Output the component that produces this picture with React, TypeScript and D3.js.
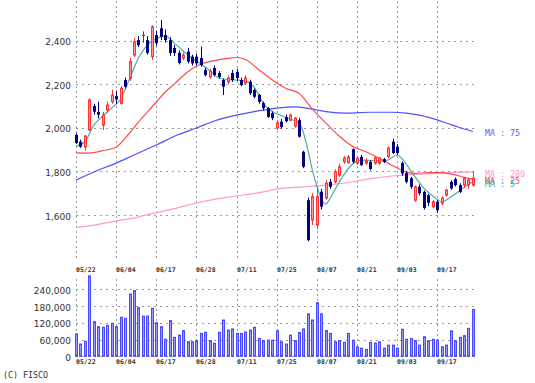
import React from "react";
import * as d3 from "d3";

// ---- data ----
const dateLabels = ["05/22", "06/04", "06/17", "06/28", "07/11", "07/25", "08/07", "08/21", "09/03", "09/17"];
const dateLabelIdx = [0, 9, 18, 27, 36, 45, 54, 63, 72, 81];

const opens = [1967, 1936, 1913, 1990, 2100, 2072, 2012, 2081, 2119, 2145, 2112, 2219, 2227, 2333, 2402, 2425, 2402, 2326, 2425, 2456,
  2425, 2402, 2366, 2343, 2320, 2349, 2326, 2326, 2320, 2265, 2233, 2274, 2251, 2219, 2210, 2251, 2256, 2219, 2205, 2211,
  2173, 2150, 2113, 2090, 2067, 1999, 2028, 2049, 2035, 2008, 2035, 1890, 1668, 1577, 1554, 1707, 1678, 1752, 1752, 1783,
  1844, 1840, 1902, 1838, 1867, 1838, 1844, 1838, 1838, 1856, 1867, 1936, 1913, 1838, 1792, 1769, 1668, 1729, 1706, 1691,
  1638, 1661, 1654, 1691, 1752, 1765, 1737, 1737, 1737, 1737];
const highs = [1975, 1945, 1967, 2135, 2110, 2119, 2073, 2120, 2175, 2170, 2190, 2230, 2320, 2410, 2420, 2442, 2420, 2470, 2445, 2494,
  2450, 2415, 2380, 2355, 2345, 2366, 2335, 2340, 2372, 2275, 2270, 2285, 2260, 2225, 2240, 2265, 2270, 2230, 2240, 2220,
  2180, 2155, 2120, 2095, 2075, 2035, 2040, 2060, 2065, 2050, 2045, 1895, 1680, 1700, 1729, 1720, 1760, 1765, 1810, 1835,
  1870, 1875, 1905, 1870, 1875, 1860, 1850, 1870, 1865, 1862, 1915, 1950, 1925, 1845, 1800, 1775, 1735, 1740, 1712, 1698,
  1668, 1668, 1685, 1720, 1760, 1772, 1745, 1775, 1770, 1800];
const lows = [1925, 1907, 1895, 1985, 2060, 2044, 1990, 2070, 2110, 2110, 2105, 2180, 2215, 2325, 2370, 2390, 2335, 2311, 2375, 2402,
  2390, 2330, 2330, 2290, 2310, 2295, 2285, 2285, 2280, 2235, 2225, 2235, 2225, 2150, 2200, 2210, 2215, 2190, 2195, 2150,
  2135, 2110, 2080, 2045, 2035, 1990, 1995, 2025, 2030, 2000, 1955, 1815, 1480, 1554, 1535, 1625, 1670, 1720, 1745, 1775,
  1835, 1835, 1835, 1830, 1825, 1830, 1805, 1830, 1830, 1838, 1860, 1880, 1875, 1780, 1745, 1720, 1660, 1690, 1625, 1640,
  1630, 1610, 1645, 1685, 1715, 1730, 1700, 1725, 1720, 1730];
const closes = [1930, 1913, 1962, 2127, 2073, 2060, 2058, 2104, 2150, 2130, 2181, 2188, 2303, 2394, 2379, 2425, 2343, 2463, 2387, 2417,
  2402, 2343, 2343, 2297, 2333, 2303, 2295, 2295, 2288, 2242, 2260, 2242, 2233, 2188, 2228, 2219, 2228, 2196, 2228, 2158,
  2142, 2119, 2090, 2050, 2044, 2023, 2003, 2030, 2058, 2044, 1959, 1821, 1485, 1684, 1684, 1638, 1746, 1729, 1798, 1821,
  1861, 1866, 1844, 1861, 1829, 1849, 1811, 1861, 1861, 1843, 1907, 1884, 1884, 1790, 1752, 1729, 1729, 1700, 1632, 1656,
  1661, 1622, 1678, 1714, 1722, 1737, 1706, 1769, 1760, 1769];
const volumes = [80000, 44000, 54000, 288000, 124000, 106000, 104000, 111000, 118000, 106000,
  140000, 136000, 223000, 235000, 174000, 144000, 144000, 172000, 120000, 106000,
  61000, 128000, 68000, 76000, 92000, 52000, 52000, 56000, 82000, 86000,
  56000, 47000, 86000, 130000, 94000, 98000, 82000, 82000, 87000, 94000,
  104000, 64000, 56000, 58000, 58000, 91000, 52000, 44000, 76000, 56000,
  85000, 98000, 152000, 130000, 192000, 152000, 92000, 82000, 52000, 56000,
  50000, 82000, 58000, 34000, 29000, 25000, 50000, 47000, 52000, 29000,
  40000, 40000, 29000, 97000, 61000, 64000, 56000, 40000, 70000, 56000,
  61000, 58000, 34000, 40000, 91000, 56000, 68000, 74000, 100000, 168000];

const ma5Idx = [0, 2, 4, 6, 8, 10, 12, 14, 16, 18, 20, 22, 24, 26, 28, 30, 32, 34, 36, 38, 40, 42, 44, 46, 48, 50, 51, 52, 53, 54, 55, 56, 57, 58, 60, 62, 64, 66, 68, 70, 71, 72, 73, 74, 76, 78, 80, 82, 84, 86, 88, 89];
const ma5Val = [1916, 1936, 2012, 2054, 2090, 2132, 2223, 2320, 2379, 2409, 2421, 2389, 2352, 2320, 2292, 2262, 2228, 2221, 2219, 2214, 2184, 2112, 2074, 2056, 2040, 2022, 1976, 1898, 1806, 1733, 1673, 1650, 1677, 1714, 1783, 1834, 1852, 1850, 1847, 1852, 1866, 1875, 1861, 1834, 1775, 1723, 1687, 1661, 1682, 1710, 1742, 1752];
const ma25Idx = [0, 3, 6, 9, 12, 14, 16, 18, 20, 22, 25, 28, 31, 34, 36, 38, 41, 44, 47, 50, 53, 56, 59, 62, 65, 68, 71, 74, 76, 79, 82, 85, 88, 89];
const ma25Val = [1885, 1884, 1895, 1911, 1976, 2026, 2072, 2118, 2164, 2200, 2256, 2292, 2308, 2318, 2322, 2313, 2266, 2220, 2181, 2158, 2085, 2022, 1962, 1915, 1890, 1860, 1826, 1798, 1791, 1794, 1794, 1784, 1768, 1765];
const ma75Idx = [0, 4, 9, 13, 18, 23, 27, 31, 36, 40, 45, 49, 52, 56, 61, 66, 71, 74, 77, 80, 83, 86, 89];
const ma75Val = [1760, 1797, 1838, 1875, 1921, 1969, 1999, 2031, 2058, 2074, 2090, 2096, 2089, 2074, 2067, 2071, 2071, 2067, 2058, 2042, 2022, 2001, 1983];
const ma200Idx = [0, 5, 9, 13, 17, 22, 27, 31, 36, 42, 46, 51, 56, 61, 66, 72, 78, 84, 89];
const ma200Val = [1543, 1557, 1573, 1586, 1606, 1629, 1655, 1672, 1687, 1706, 1722, 1729, 1737, 1749, 1767, 1781, 1788, 1794, 1798];

const priceTicks = [1600, 1800, 2000, 2200, 2400];
const volumeTicks = [0, 60000, 120000, 180000, 240000];

const maSeries = [
  { name: "MA : 75", idx: ma75Idx, val: ma75Val, color: "#5050ff", label: "#5a5aff" },
  { name: "MA : 200", idx: ma200Idx, val: ma200Val, color: "#ff99cc", label: "#ff99cc" },
  { name: "MA : 25", idx: ma25Idx, val: ma25Val, color: "#ff4a4a", label: "#ff4444" },
  { name: "MA : 5", idx: ma5Idx, val: ma5Val, color: "#4aacac", label: "#44a8a8" },
];

export default function App() {
  const n = closes.length;
  const x = d3.scaleLinear().domain([0, n - 1]).range([76, 76 + (n - 1) * 4.46]);
  const y = d3.scaleLinear().domain([1600, 2400]).range([215, 40.5]);
  const yv = d3.scaleLinear().domain([0, 240000]).range([356.3, 289.3]);
  const plotL = 76, plotR = 476;
  const grey = "#9a9a9a";
  const labelFont = "'DejaVu Sans', Verdana, sans-serif";
  const mono = "'DejaVu Sans Mono', monospace";

  const line = (idx: number[], val: number[]) =>
    d3.line<number>()
      .x((_, k) => x(idx[k]))
      .y((v) => y(v))
      .curve(d3.curveMonotoneX)(val) || "";

  return (
    <svg width={535} height={383} style={{ position: "absolute", left: 0, top: 0, background: "#fff" }}>
      {/* price grid */}
      {priceTicks.map((t) => (
        <g key={"pt" + t}>
          <line x1={plotL} x2={plotR} y1={Math.round(y(t)) + 0.5} y2={Math.round(y(t)) + 0.5} stroke={grey} strokeDasharray="2,4" />
          <text x={71} y={y(t) + 4.5} textAnchor="end" fontFamily={labelFont} fontSize={9} fill="#333">{d3.format(",")(t)}</text>
        </g>
      ))}
      {dateLabelIdx.map((i, k) => {
        const gx = Math.round(x(i)) + 0.5;
        return (
          <g key={"dl" + i}>
            <line x1={gx} x2={gx} y1={1} y2={260} stroke={grey} strokeDasharray="2,3" />
            <line x1={gx} x2={gx} y1={279} y2={358} stroke={grey} strokeDasharray="2,3" />
            <text x={gx - 0.5} y={272} fontFamily={mono} fontSize={6.5} fontWeight="bold" fill="#333">{dateLabels[k]}</text>
            <text x={gx - 0.5} y={363.5} fontFamily={mono} fontSize={6.5} fontWeight="bold" fill="#333">{dateLabels[k]}</text>
          </g>
        );
      })}

      {/* moving averages */}
      {maSeries.map((m) => (
        <path key={m.name} d={line(m.idx, m.val)} fill="none" stroke={m.color} strokeWidth={1.2} />
      ))}

      {/* candles */}
      {closes.map((c, i) => {
        const o = opens[i];
        const cx = Math.round(x(i));
        const up = c > o;
        const doji = c === o;
        const col = doji ? "#007a00" : up ? "#ff3333" : "#000080";
        const top = y(Math.max(o, c));
        const bot = y(Math.min(o, c));
        const h = Math.max(1, bot - top);
        return (
          <g key={"c" + i}>
            <line x1={cx + 0.5} x2={cx + 0.5} y1={y(highs[i])} y2={y(lows[i])} stroke={col} strokeWidth={1} />
            {up ? (
              <rect x={cx - 0.5} y={top} width={2} height={h} fill="#ff9a9a" stroke={col} strokeWidth={1} />
            ) : (
              <rect x={cx - 1} y={top} width={3} height={h} fill={col} />
            )}
          </g>
        );
      })}

      {/* MA labels */}
      {maSeries.map((m) => (
        <text key={"lab" + m.name} x={485} y={y(m.val[m.val.length - 1]) + 5} fontFamily={mono} fontSize={8.3} fill={m.label}>{m.name}</text>
      ))}

      {/* volume grid */}
      {volumeTicks.map((t) => (
        <g key={"vt" + t}>
          <line x1={plotL} x2={plotR} y1={Math.round(yv(t)) + 0.5} y2={Math.round(yv(t)) + 0.5} stroke={grey} strokeDasharray="2,4" />
          <text x={71} y={yv(t) + 4.5} textAnchor="end" fontFamily={labelFont} fontSize={9} fill="#333">{d3.format(",")(t)}</text>
        </g>
      ))}
      {volumes.map((v, i) => {
        const cx = Math.round(x(i));
        const top = yv(v);
        return (
          <rect key={"v" + i} x={cx - 0.5} y={top} width={2} height={yv(0) - top} fill="#9c9cff" stroke="#4848ff" strokeWidth={1} />
        );
      })}

      <text x={3} y={377.5} fontFamily={mono} fontSize={8.3} fill="#333">(C) FISCO</text>
    </svg>
  );
}
